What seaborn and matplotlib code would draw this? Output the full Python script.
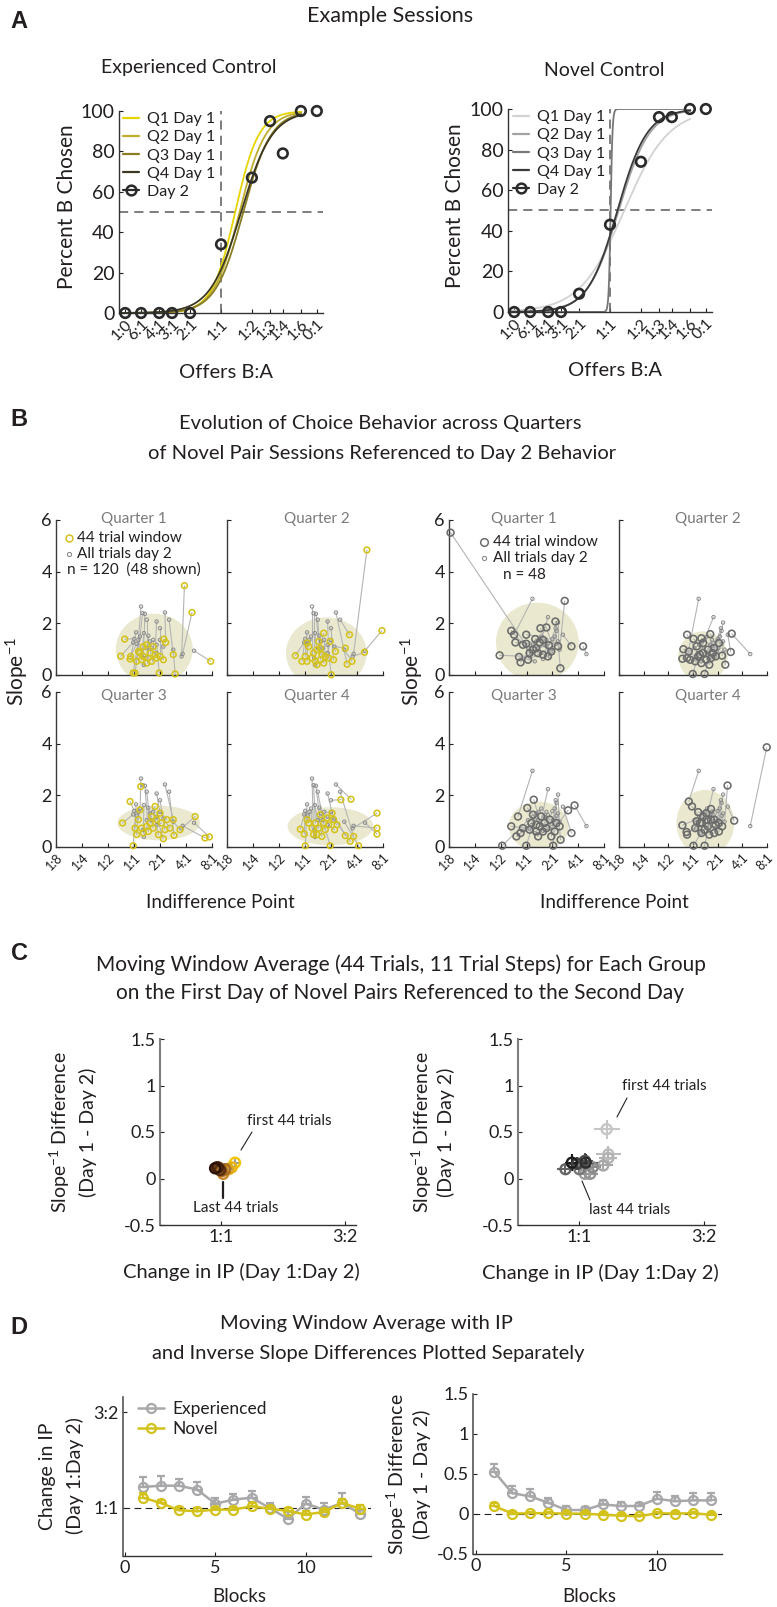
import numpy as np
import pandas as pd
import matplotlib
matplotlib.use("Agg")
import matplotlib.pyplot as plt
import seaborn as sns
from matplotlib.patches import Ellipse
from matplotlib.lines import Line2D
from matplotlib.colors import LinearSegmentedColormap

# ====================== DATA ======================
# ---- Panel A : example sessions (offer ratio axis, log2 positions)
offer_labels = ['1:0', '6:1', '4:1', '3:1', '2:1', '1:1', '1:2', '1:3', '1:4', '1:6', '0:1']
offer_pos = [-3.1, -2.585, -2.0, -1.585, -1.0, 0.0, 1.0, 1.585, 2.0, 2.585, 3.1]
exp_day2_pct = [0, 0, 0, 0, 0, 34, 67, 95, 79, 100, 100]
nov_day2_pct = [0, 0, 0, 0, 9, 43, 74, 96, 96, 100, 100]
quarter_labels = ['Q1 Day 1', 'Q2 Day 1', 'Q3 Day 1', 'Q4 Day 1']
exp_fit_ip = [0.46, 0.60, 0.72, 0.65]        # fitted indifference points (log2)
exp_fit_width = [0.38, 0.42, 0.45, 0.50]     # fitted inverse slopes
nov_fit_ip = [0.46, 0.28, 0.02, 0.24]
nov_fit_width = [0.72, 0.50, 0.03, 0.48]

# ---- Panel B : IP (log2) and inverse slope per session
ip_tick_labels = ['1:8', '1:4', '1:2', '1:1', '2:1', '4:1', '8:1']
quarter_titles = ['Quarter 1', 'Quarter 2', 'Quarter 3', 'Quarter 4']

nov_day2_ip = [-0.03, 0.01, 0.08, 0.1, 0.17, 0.23, 0.27, 0.33, 0.36, 0.38, 0.38, 0.42, 0.49, 0.49, 0.55,
               0.62, 0.68, 0.74, 0.87, 0.87, 0.87, 1.0, 1.0, 1.13, 1.19, 1.35, 1.51, 1.83, 1.87, 2.31]
nov_day2_slope = [1.26, 1.40, 1.65, 1.21, 1.36, 1.49, 2.65, 2.39, 0.66, 1.62, 0.39, 2.37, 2.14, 1.04, 1.52,
                  1.3, 1.04, 1.36, 2.07, 0.85, 1.17, 1.81, 1.36, 1.1, 2.42, 2.14, 0.98, 0.72, 0.82, 0.94]
nov_q_ip = [
    [-0.51, -0.36, -0.15, -0.13, -0.03, 0.04, 0.1, 0.17, 0.23, 0.29, 0.36, 0.36, 0.49, 0.49, 0.55,
     0.62, 0.68, 0.74, 0.81, 0.87, 0.97, 1.0, 1.13, 1.15, 1.22, 1.51, 1.58, 1.94, 2.23, 2.95],
    [-0.37, -0.12, 0.01, 0.08, 0.08, 0.14, 0.27, 0.33, 0.4, 0.46, 0.46, 0.53, 0.59, 0.59, 0.65,
     0.72, 0.72, 0.78, 0.91, 0.97, 1.01, 1.1, 1.17, 1.55, 1.62, 1.71, 1.81, 2.29, 2.38, 2.96],
    [-0.44, -0.15, -0.03, 0.04, 0.1, 0.17, 0.23, 0.26, 0.29, 0.36, 0.49, 0.55, 0.62, 0.68, 0.74,
     0.81, 0.87, 0.94, 1.0, 1.06, 1.13, 1.19, 1.26, 1.38, 1.51, 1.54, 1.77, 2.35, 2.73, 2.9],
    [-0.18, -0.03, 0.01, 0.08, 0.14, 0.27, 0.33, 0.4, 0.46, 0.53, 0.59, 0.65, 0.72, 0.78, 0.85,
     0.91, 0.97, 1.04, 1.1, 1.14, 1.23, 1.38, 1.55, 1.74, 1.77, 1.87, 2.06, 2.77, 2.77, 2.77],
]
nov_q_slope = [
    [0.73, 1.39, 0.62, 0.72, 0.08, 0.08, 0.53, 0.91, 0.85, 0.59, 1.1, 0.72, 1.17, 0.46, 0.66,
     0.85, 0.53, 1.1, 0.79, 0.66, 0.08, 0.72, 0.59, 1.39, 1.26, 0.79, 0.04, 3.46, 2.42, 0.53],
    [0.75, 0.53, 0.72, 0.53, 1.24, 1.1, 0.66, 0.85, 0.53, 0.98, 0.4, 1.3, 0.59, 1.04, 0.79,
     1.62, 0.46, 0.72, 0.66, 1.3, 0.01, 0.59, 0.91, 1.04, 0.42, 1.56, 0.53, 0.88, 4.84, 1.72],
    [0.93, 1.76, 0.05, 0.73, 0.48, 1.06, 1.44, 2.34, 0.73, 0.54, 0.8, 0.6, 0.93, 1.18, 0.73,
     1.57, 1.06, 0.48, 1.31, 0.93, 0.32, 0.67, 1.06, 0.73, 1.06, 0.45, 0.67, 1.18, 0.35, 0.39],
    [0.69, 0.5, 0.05, 1.06, 0.93, 0.73, 0.48, 0.93, 0.48, 0.73, 1.25, 0.41, 0.93, 0.67, 1.12,
     0.86, 0.05, 1.31, 1.06, 0.67, 0.86, 1.83, 0.44, 0.22, 1.85, 0.41, 0.05, 1.31, 0.73, 0.5],
]

exp_day2_ip = [0.06, 0.12, 0.19, 0.23, 0.25, 0.32, 0.38, 0.44, 0.47, 0.57, 0.57, 0.64, 0.7, 0.77, 0.77,
               0.83, 0.83, 0.9, 0.96, 1.0, 1.03, 1.09, 1.13, 1.16, 1.16, 1.22, 1.22, 1.28, 1.41, 2.32]
exp_day2_slope = [1.04, 0.72, 0.85, 2.95, 1.17, 0.53, 1.3, 1.04, 1.36, 1.49, 0.85, 0.62, 1.17, 1.36, 1.11,
                  2.24, 1.24, 0.72, 0.91, 1.39, 1.04, 1.49, 1.81, 1.71, 1.21, 2.03, 1.3, 0.98, 1.56, 0.81]
exp_q_ip = [
    [-2.94, -1.04, -0.59, -0.48, -0.43, -0.29, -0.23, -0.14, -0.01, -0.01, 0.06, 0.12, 0.25, 0.34, 0.38,
     0.44, 0.51, 0.54, 0.64, 0.64, 0.77, 0.83, 0.87, 0.96, 1.12, 1.22, 1.31, 1.48, 1.74, 2.19],
    [-0.43, -0.39, -0.24, -0.24, -0.17, -0.11, -0.01, 0.02, 0.09, 0.15, 0.21, 0.28, 0.34, 0.34, 0.41,
     0.41, 0.47, 0.54, 0.6, 0.66, 0.7, 0.73, 0.79, 0.86, 0.92, 1.05, 1.18, 1.31, 1.53, 1.57],
    [-0.94, -0.59, -0.39, -0.33, -0.23, -0.14, -0.01, 0.03, 0.12, 0.19, 0.25, 0.28, 0.38, 0.38, 0.45,
     0.51, 0.57, 0.64, 0.7, 0.77, 0.9, 0.96, 1.03, 1.09, 1.16, 1.28, 1.32, 1.61, 1.74, 1.86],
    [-0.43, -0.26, -0.24, -0.17, -0.04, 0.02, 0.09, 0.15, 0.21, 0.28, 0.34, 0.35, 0.41, 0.47, 0.47,
     0.54, 0.54, 0.6, 0.66, 0.73, 0.73, 0.86, 0.86, 0.92, 1.05, 1.05, 1.18, 1.4, 1.67, 2.99],
]
exp_q_slope = [
    [5.51, 0.76, 1.71, 1.56, 1.26, 0.7, 0.49, 1.17, 1.21, 1.56, 0.59, 0.85, 0.98, 1.39, 1.04,
     0.85, 1.26, 1.81, 1.36, 0.79, 1.84, 0.72, 1.15, 0.91, 2.07, 1.11, 0.26, 2.87, 1.11, 1.11],
    [0.63, 1.0, 1.56, 0.66, 0.91, 0.59, 0.04, 1.4, 0.53, 1.11, 0.72, 0.79, 1.42, 0.46, 0.85,
     1.24, 0.04, 0.59, 0.98, 0.4, 1.58, 0.66, 0.85, 1.04, 0.72, 1.24, 0.75, 0.4, 0.89, 1.6],
    [0.05, 0.8, 0.41, 1.18, 0.54, 0.73, 0.05, 1.51, 0.67, 0.93, 1.25, 1.83, 0.6, 0.86, 0.41,
     0.8, 1.18, 0.6, 0.93, 0.73, 1.06, 0.41, 0.05, 0.6, 0.93, 0.8, 0.28, 1.42, 0.54, 1.61],
    [0.84, 0.58, 0.48, 1.76, 1.57, 0.05, 0.73, 1.0, 1.35, 0.93, 0.54, 0.95, 1.18, 0.05, 0.67,
     1.06, 1.31, 0.8, 0.48, 1.47, 1.06, 0.54, 1.06, 0.86, 0.6, 0.93, 0.8, 2.38, 1.02, 3.86],
]
# shaded confidence ellipses (centre ip, centre slope, half width, half height)
nov_ell_x = [0.78, 0.82, 0.95, 0.98]
nov_ell_y = [1.0, 0.85, 0.93, 0.8]
nov_ell_w = [1.48, 1.55, 1.59, 1.65]
nov_ell_h = [1.37, 1.38, 0.67, 0.74]
exp_ell_x = [0.42, 0.4, 0.47, 0.5]
exp_ell_y = [1.27, 0.72, 0.8, 0.93]
exp_ell_w = [1.6, 1.0, 1.16, 1.17]
exp_ell_h = [1.53, 0.97, 0.96, 1.28]

# ---- Panels C / D : moving-window averages (13 blocks)
blocks = list(range(1, 14))
exp_ip_diff = [0.128, 0.136, 0.136, 0.112, 0.026, 0.051, 0.063, 0.0, -0.065, 0.026, -0.01, 0.03, -0.035]
exp_ip_err = [0.061, 0.059, 0.043, 0.047, 0.037, 0.037, 0.039, 0.033, 0.04, 0.04, 0.043, 0.06, 0.03]
nov_ip_diff = [0.063, 0.03, -0.014, -0.02, -0.01, -0.01, 0.01, -0.004, -0.018, -0.04, -0.024, 0.03, -0.004]
nov_ip_err = [0.028, 0.02, 0.02, 0.018, 0.018, 0.018, 0.018, 0.018, 0.02, 0.02, 0.02, 0.022, 0.02]
exp_slope_diff = [0.53, 0.26, 0.22, 0.14, 0.05, 0.05, 0.12, 0.10, 0.10, 0.19, 0.16, 0.17, 0.17]
exp_slope_err = [0.10, 0.09, 0.09, 0.06, 0.05, 0.04, 0.05, 0.05, 0.04, 0.08, 0.07, 0.09, 0.09]
nov_slope_diff = [0.10, 0.005, 0.01, 0.01, 0.005, 0.005, -0.01, -0.02, -0.03, 0.01, 0.005, 0.01, -0.01]
nov_slope_err = [0.04, 0.02, 0.02, 0.02, 0.02, 0.02, 0.02, 0.02, 0.02, 0.02, 0.02, 0.02, 0.02]
# novel group as read in panel C
nov_c_ip = [0.066, 0.05, 0.035, 0.02, 0.01, 0.005, 0.02, 0.0, -0.01, -0.02, -0.005, -0.015, -0.028]
nov_c_slope = [0.17, 0.12, 0.10, 0.09, 0.05, 0.08, 0.10, 0.09, 0.11, 0.12, 0.09, 0.12, 0.11]

# ====================== STYLE ======================
sns.set_theme(style="ticks")
plt.rcParams.update({
    'font.family': ['Lato', 'DejaVu Sans'],
    'mathtext.fontset': 'custom', 'mathtext.rm': 'Lato', 'mathtext.it': 'Lato:italic',
    'mathtext.bf': 'Lato:bold', 'mathtext.default': 'regular',
    'text.color': '#231f20', 'axes.labelcolor': '#231f20',
    'xtick.direction': 'in', 'ytick.direction': 'in',
})
TXT = '#231f20'
YEL = '#d4c21c'
GRY = '#a8a8aa'

W, H = 777, 1607
fig = plt.figure(figsize=(W / 100, H / 100), dpi=100)


def add_ax(l, t, r, b):
    ax = fig.add_axes([l / W, 1 - b / H, (r - l) / W, (b - t) / H])
    ax.set_facecolor('none')
    return ax


def ftext(x, y, s, **kw):
    kw.setdefault('ha', 'center')
    kw.setdefault('va', 'center')
    kw.setdefault('color', TXT)
    return fig.text(x / W, 1 - y / H, s, **kw)


def fline(xs, ys, **kw):
    fig.add_artist(Line2D([x / W for x in xs], [1 - y / H for y in ys], transform=fig.transFigure, **kw))


def fmark(x, y, **kw):
    fig.add_artist(Line2D([x / W], [1 - y / H], transform=fig.transFigure, ls='none', **kw))


def style(ax, left_col='#333333', left_lw=1.0):
    sns.despine(ax=ax)
    ax.spines['left'].set_color(left_col)
    ax.spines['left'].set_linewidth(left_lw)
    ax.spines['bottom'].set_color('#333333')
    ax.spines['bottom'].set_linewidth(1.0)
    ax.tick_params(direction='in', length=3, width=0.8, colors=TXT, pad=3)
    ax.set_xlabel('')
    ax.set_ylabel('')


# ====================== PANEL A ======================
def panel_A(rect, day2, ips, widths, colors, leg_xy, title, title_xy, ylab_xy, xlab_xy):
    ax = add_ax(*rect)
    ax.axhline(50, color='#5a5a5a', lw=1.1, ls=(0, (6, 4)), zorder=1)
    ax.axvline(0, color='#5a5a5a', lw=1.1, ls=(0, (6, 4)), zorder=1)
    xs = np.linspace(-3.2, 2.6, 1500)
    for q in range(4):
        ys = 100.0 / (1.0 + np.exp(-(xs - ips[q]) / widths[q]))
        sns.lineplot(x=xs, y=ys, ax=ax, color=colors[q], lw=1.3, zorder=2)
    sns.scatterplot(x=offer_pos, y=day2, ax=ax, s=48, color='#2a2a2a', facecolor='none',
                    edgecolor='#2a2a2a', linewidth=1.9, zorder=5, clip_on=False)
    ax.set_xlim(-3.3, 3.3)
    ax.set_ylim(0, 100)
    ax.set_xticks(offer_pos)
    ax.set_xticklabels(offer_labels, rotation=45, ha='right', rotation_mode='anchor', fontsize=11.5)
    ax.set_yticks(range(0, 101, 20))
    ax.set_yticklabels([str(v) for v in range(0, 101, 20)], fontsize=14)
    style(ax)
    handles = [Line2D([], [], color=colors[q], lw=1.6) for q in range(4)]
    handles.append(Line2D([], [], color='#2a2a2a', lw=1.6, marker='o', ms=7, mfc='none', mew=1.8))
    ax.legend(handles, quarter_labels + ['Day 2'], loc='upper left', bbox_to_anchor=(leg_xy[0] / W, 1 - leg_xy[1] / H),
              bbox_transform=fig.transFigure, frameon=False, fontsize=11.5, handlelength=1.0,
              handletextpad=0.5, labelspacing=0.25, borderpad=0, borderaxespad=0)
    ftext(*title_xy, title, fontsize=14)
    ftext(*ylab_xy, 'Percent B Chosen', rotation=90, fontsize=15)
    ftext(*xlab_xy, 'Offers B:A', fontsize=14.5)
    return ax


ftext(19, 22, 'A', fontsize=17, fontweight='bold', family='Liberation Sans')
ftext(390, 16, 'Example Sessions', fontsize=15.5)
panel_A((119, 111, 323, 313), exp_day2_pct, exp_fit_ip, exp_fit_width,
        ['#e6d500', '#beae2c', '#8a7d22', '#3c3824'], (123, 112), 'Experienced Control', (189, 67), (67, 207), (226, 372))
panel_A((508, 109, 712, 312), nov_day2_pct, nov_fit_ip, nov_fit_width,
        ['#d2d2d2', '#a2a2a2', '#777777', '#3a3a3a'], (513, 110), 'Novel Control', (604, 71), (455, 206), (615, 371))

# ====================== PANEL B ======================
ftext(19, 420, 'B', fontsize=17, fontweight='bold', family='Liberation Sans')
ftext(380, 424, 'Evolution of Choice Behavior across Quarters', fontsize=14.5)
ftext(382, 453, 'of Novel Pair Sessions Referenced to Day 2 Behavior', fontsize=14.5)


def panel_B(rect, gx, gy, cx, cy, ell, col, csize, show_y, show_x, title, title_xy):
    ax = add_ax(*rect)
    ax.add_patch(Ellipse((ell[0], ell[1]), 2 * ell[2], 2 * ell[3], facecolor='#eae9cf',
                         edgecolor='none', zorder=0))
    n = len(gx)
    df = pd.DataFrame({'x': list(gx) + list(cx), 'y': list(gy) + list(cy),
                       'session': list(range(n)) * 2})
    sns.lineplot(data=df, x='x', y='y', units='session', estimator=None, sort=False,
                 color='#b4b4b4', lw=0.8, ax=ax, zorder=2)
    sns.scatterplot(x=gx, y=gy, ax=ax, s=6, color='#8a8a8a', facecolor='none', edgecolor='#8a8a8a',
                    linewidth=0.7, zorder=3, clip_on=False)
    sns.scatterplot(x=cx, y=cy, ax=ax, s=csize, color=col, facecolor='none', edgecolor=col,
                    linewidth=1.15, zorder=4, clip_on=False)
    ax.set_xlim(-3, 3)
    ax.set_ylim(0, 6)
    ax.set_xticks(range(-3, 4))
    ax.set_yticks([0, 2, 4, 6])
    if show_x:
        ax.set_xticklabels(ip_tick_labels, rotation=45, ha='right', rotation_mode='anchor', fontsize=9)
    else:
        ax.set_xticklabels([])
    if show_y:
        ax.set_yticklabels(['0', '2', '4', '6'], fontsize=13)
    else:
        ax.set_yticklabels([])
    style(ax)
    ax.spines['left'].set_color('#3a3a3a')
    ftext(*title_xy, title, fontsize=11, color='#7a7a7a')
    return ax


nov_rects = [(56, 520, 212, 675), (227, 520, 383, 675), (56, 692, 212, 847), (227, 692, 383, 847)]
exp_rects = [(449, 520, 604, 675), (619, 520, 767, 675), (449, 692, 604, 847), (619, 692, 767, 847)]
nov_tx = [(134, 519), (317, 519), (134, 696), (317, 696)]
exp_tx = [(524, 519), (708, 519), (524, 696), (708, 696)]
for q in range(4):
    panel_B(nov_rects[q], nov_day2_ip, nov_day2_slope, nov_q_ip[q], nov_q_slope[q],
            (nov_ell_x[q], nov_ell_y[q], nov_ell_w[q], nov_ell_h[q]), YEL, 17,
            q % 2 == 0, q >= 2, quarter_titles[q], nov_tx[q])
    panel_B(exp_rects[q], exp_day2_ip, exp_day2_slope, exp_q_ip[q], exp_q_slope[q],
            (exp_ell_x[q], exp_ell_y[q], exp_ell_w[q], exp_ell_h[q]), '#6b6b6b', 24,
            q % 2 == 0, q >= 2, quarter_titles[q], exp_tx[q])

# B legends
fmark(69, 538, marker='o', ms=5, mfc='none', mec=YEL, mew=1.1)
fmark(69, 554, marker='o', ms=3, mfc='none', mec='#8a8a8a', mew=0.8)
ftext(77, 538, '44 trial window', ha='left', fontsize=11)
ftext(77, 554, 'All trials day 2', ha='left', fontsize=11)
ftext(67, 570, 'n = 120  (48 shown)', ha='left', fontsize=11)
fmark(484, 542, marker='o', ms=5.5, mfc='none', mec='#6b6b6b', mew=1.1)
fmark(484, 558, marker='o', ms=3, mfc='none', mec='#8a8a8a', mew=0.8)
ftext(493, 542, '44 trial window', ha='left', fontsize=11)
ftext(493, 558, 'All trials day 2', ha='left', fontsize=11)
ftext(503, 575, 'n = 48', ha='left', fontsize=11)
ftext(17, 672, 'Slope$^{-1}$', rotation=90, fontsize=15)
ftext(412, 672, 'Slope$^{-1}$', rotation=90, fontsize=15)
ftext(220, 903, 'Indifference Point', fontsize=13.5)
ftext(614, 903, 'Indifference Point', fontsize=13.5)

# ====================== PANEL C ======================
ftext(19, 953, 'C', fontsize=17, fontweight='bold', family='Liberation Sans')
ftext(401, 965, 'Moving Window Average (44 Trials, 11 Trial Steps) for Each Group', fontsize=15)
ftext(400, 993, 'on the First Day of Novel Pairs Referenced to the Second Day', fontsize=15)

cm_nov = LinearSegmentedColormap.from_list('nov', ['#f4c400', '#c98a2e', '#8a4e1c', '#2b1208'])
cm_exp = LinearSegmentedColormap.from_list('exp', ['#c6c6c6', '#8a8a8a', '#1c1c1c'])
nov_cols = [cm_nov(i / 12) for i in range(13)]
exp_cols = [cm_exp(i / 12) for i in range(13)]


def panel_C(rect, xv, yv, xe, ye, cols, err_cols):
    ax = add_ax(*rect)
    for i in range(len(xv)):
        ax.errorbar(xv[i], yv[i], xerr=xe[i], yerr=ye[i], fmt='none', ecolor=err_cols[i],
                    elinewidth=1.5, capsize=0, zorder=2 + i * 0.01)
    df = pd.DataFrame({'x': xv, 'y': yv, 'block': blocks})
    sns.scatterplot(data=df, x='x', y='y', hue='block', palette=cols, ax=ax, s=52,
                    facecolor='none', linewidth=1.7, legend=False, zorder=4, clip_on=False)
    # open circles coloured by block
    coll = ax.collections[-1]
    coll.set_edgecolors(cols)
    coll.set_facecolors('none')
    ax.set_xlim(-0.288, 0.637)
    ax.set_ylim(-0.5, 1.5)
    ax.set_xticks([0, 0.585])
    ax.set_xticklabels(['1:1', '3:2'], fontsize=13)
    ax.set_yticks([-0.5, 0, 0.5, 1, 1.5])
    ax.set_yticklabels(['-0.5', '0', '0.5', '1', '1.5'], fontsize=13)
    style(ax, left_col='#7f7f7f', left_lw=1.5)
    return ax


panel_C((160, 1039, 356, 1225), nov_c_ip, nov_c_slope, nov_ip_err, nov_slope_err, nov_cols,
        ['#9c9c9c'] * 13)
panel_C((518, 1039, 715, 1225), exp_ip_diff, exp_slope_diff, exp_ip_err, exp_slope_err, exp_cols,
        exp_cols)

for x0, x1 in [(60, 88), (422, 446)]:
    ftext(x0, 1132, 'Slope$^{-1}$ Difference', rotation=90, fontsize=14)
    ftext(x1, 1132, '(Day 1 - Day 2)', rotation=90, fontsize=14)
ftext(241, 1272, 'Change in IP (Day 1:Day 2)', fontsize=14.5)
ftext(600, 1273, 'Change in IP (Day 1:Day 2)', fontsize=14.5)
ftext(289, 1121, 'first 44 trials', fontsize=11)
fline([252, 241], [1132, 1150], color=TXT, lw=0.8)
ftext(236, 1208, 'Last 44 trials', fontsize=11)
fline([223, 223], [1182, 1198], color=TXT, lw=1.6)
ftext(664, 1086, 'first 44 trials', fontsize=11)
fline([627, 617], [1098, 1117], color=TXT, lw=0.8)
ftext(630, 1210, 'last 44 trials', fontsize=11)
fline([582, 590], [1181, 1200], color=TXT, lw=0.8)

# ====================== PANEL D ======================
ftext(19, 1327, 'D', fontsize=17, fontweight='bold', family='Liberation Sans')
ftext(366, 1324, 'Moving Window Average with IP', fontsize=14.5)
ftext(368, 1353, 'and Inverse Slope Differences Plotted Separately', fontsize=14.5)


def panel_D(rect, ylim, xlim, series):
    ax = add_ax(*rect)
    ax.axhline(0, color='#222222', lw=0.8, ls=(0, (6, 4)), zorder=1)
    for vals, errs, col in series:
        sns.lineplot(x=blocks, y=vals, ax=ax, color=col, lw=1.8, marker='o', markersize=6.5,
                     markerfacecolor='none', markeredgecolor=col, markeredgewidth=1.6, zorder=3)
        ax.errorbar(blocks, vals, yerr=[np.zeros(len(errs)), errs], fmt='none', ecolor=col,
                    elinewidth=1.6, capsize=3.2, capthick=1.6, zorder=3)
    ax.set_xlim(*xlim)
    ax.set_ylim(*ylim)
    ax.set_xticks([0, 5, 10])
    ax.set_xticklabels(['0', '5', '10'], fontsize=13)
    style(ax, left_col='#555555', left_lw=1.2)
    return ax


axD1 = panel_D((123, 1397, 371, 1556), (-0.293, 0.677), (-0.1, 13.6),
               [(exp_ip_diff, exp_ip_err, GRY), (nov_ip_diff, nov_ip_err, YEL)])
axD1.set_yticks([0, 0.585])
axD1.set_yticklabels(['1:1', '3:2'], fontsize=13)
handles = [Line2D([], [], color=GRY, lw=1.8, marker='o', ms=6.5, mfc='none', mec=GRY, mew=1.6),
           Line2D([], [], color=YEL, lw=1.8, marker='o', ms=6.5, mfc='none', mec=YEL, mew=1.6)]
axD1.legend(handles, ['Experienced', 'Novel'], loc='upper left', bbox_to_anchor=(138 / W, 1 - 1401 / H),
            bbox_transform=fig.transFigure, frameon=False, fontsize=12.5, handlelength=1.5,
            handletextpad=0.5, labelspacing=0.25, borderpad=0, borderaxespad=0)

axD2 = panel_D((473, 1394, 722, 1554), (-0.5, 1.5), (-0.17, 13.6),
               [(exp_slope_diff, exp_slope_err, GRY), (nov_slope_diff, nov_slope_err, YEL)])
axD2.set_yticks([-0.5, 0, 0.5, 1, 1.5])
axD2.set_yticklabels(['-0.5', '0', '0.5', '1', '1.5'], fontsize=13)

ftext(47, 1476, 'Change in IP', rotation=90, fontsize=14)
ftext(75, 1476, '(Day 1:Day 2)', rotation=90, fontsize=14)
ftext(397, 1474, 'Slope$^{-1}$ Difference', rotation=90, fontsize=14)
ftext(422, 1474, '(Day 1 - Day 2)', rotation=90, fontsize=14)
ftext(239, 1597, 'Blocks', fontsize=13.5)
ftext(589, 1597, 'Blocks', fontsize=13.5)

fig.savefig('out.png', dpi=100)
